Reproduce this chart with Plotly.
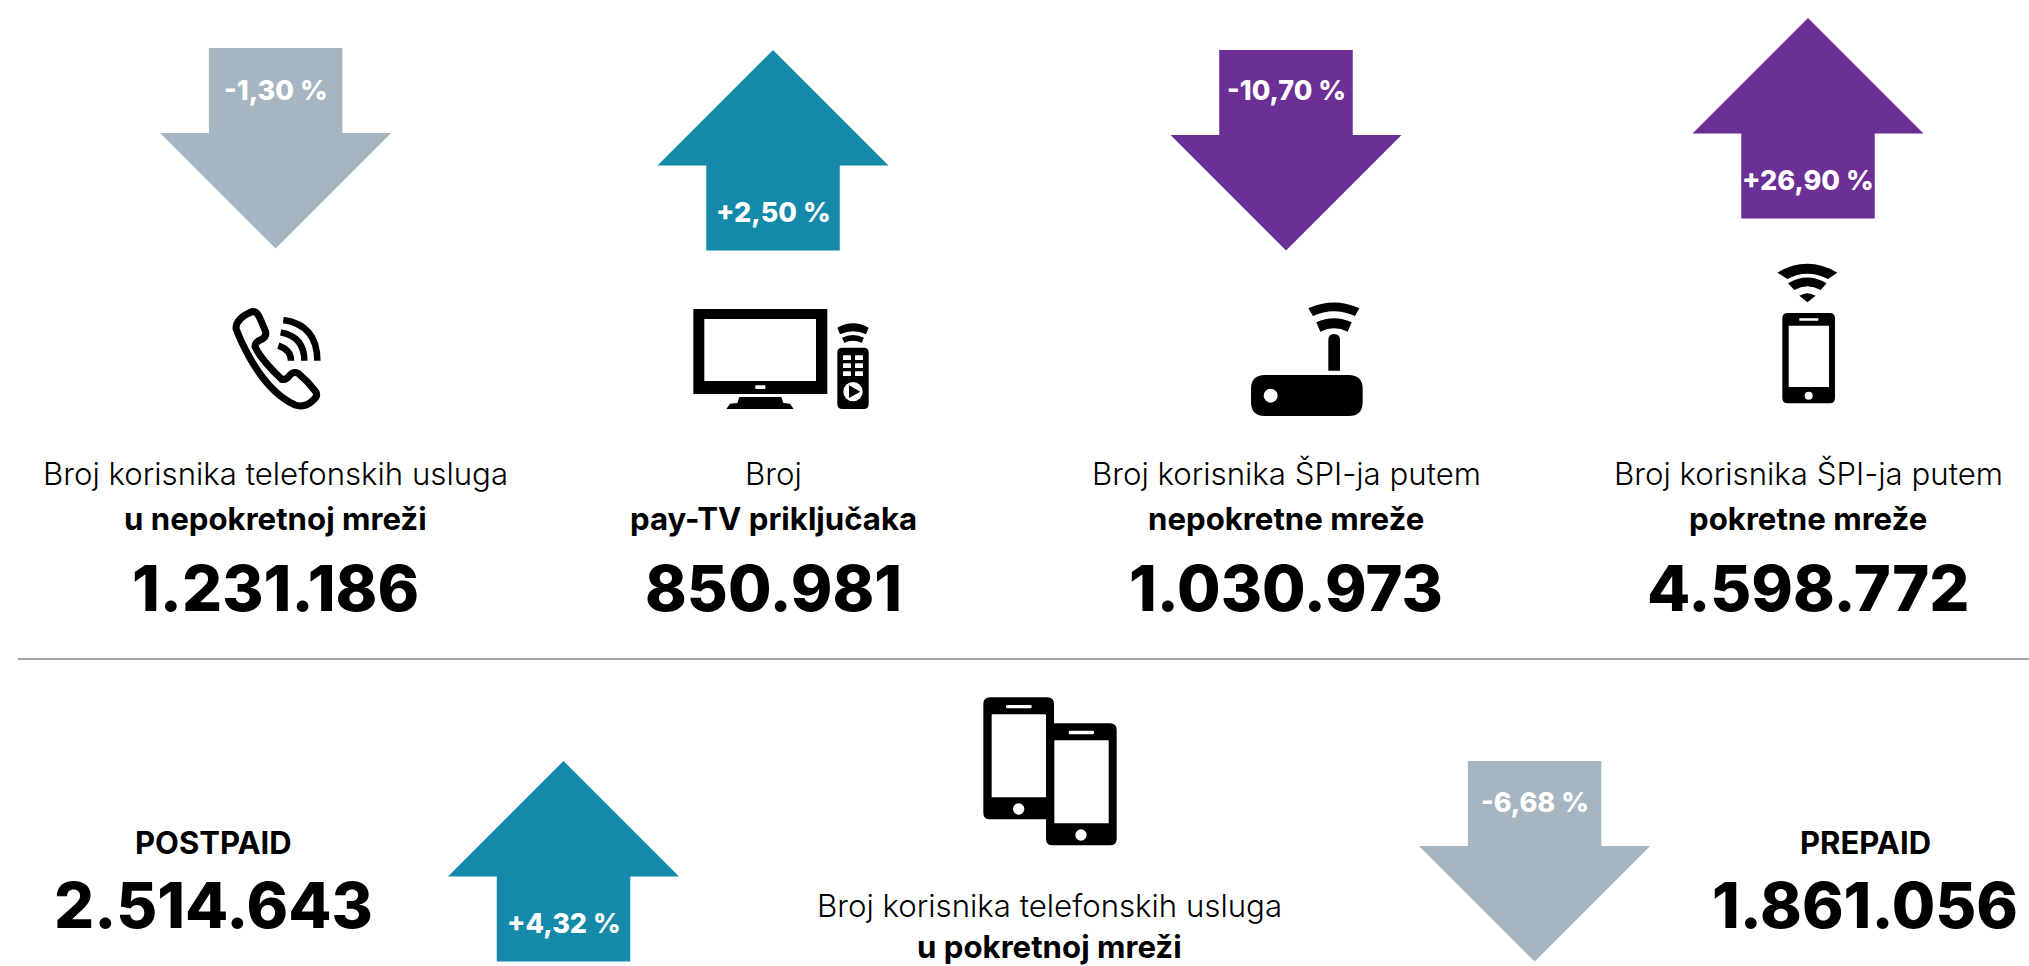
import re
import plotly.graph_objects as go

# ---------- data ----------
top_line1 = ["Broj korisnika telefonskih usluga", "Broj", "Broj korisnika ŠPI-ja putem", "Broj korisnika ŠPI-ja putem"]
top_line2 = ["u nepokretnoj mreži", "pay-TV priključaka", "nepokretne mreže", "pokretne mreže"]
top_totals = ["1.231.186", "850.981", "1.030.973", "4.598.772"]
top_changes = ["-1,30 %", "+2,50 %", "-10,70 %", "+26,90 %"]
bottom_labels = ["POSTPAID", "PREPAID"]
bottom_totals = ["2.514.643", "1.861.056"]
bottom_changes = ["+4,32 %", "-6,68 %"]
bottom_line1 = "Broj korisnika telefonskih usluga"
bottom_line2 = "u pokretnoj mreži"

# ---------- layout (page pixels) ----------
W, H = 2029, 966
GRAY, TEAL, PURPLE = "#A5B5C2", "#1489A9", "#6C2F96"
FONT = "Inter"
top_x = [275.6, 773, 1286, 1808]
top_arrow_y = [48, 50, 50, 18]
top_colors = [GRAY, TEAL, PURPLE, PURPLE]
top_pct_y = [90.6, 212, 90.6, 180]
bot_arrow_x = [563.5, 1534.6]
bot_arrow_y = [761, 761]
bot_colors = [TEAL, GRAY]
bot_pct_y = [923, 802]
bot_text_x = [213.5, 1865]

AW, AH, SW, HEAD = 231, 200.5, 133.5, 85

fig = go.Figure()


def arrow(cx, top, change, color):
    l, r, sl, sr = cx - AW / 2, cx + AW / 2, cx - SW / 2, cx + SW / 2
    if change.startswith("-"):
        sh = top + HEAD
        xs = [sl, sr, sr, r, cx, l, sl, sl]
        ys = [top, top, sh, sh, top + AH, sh, sh, top]
    else:
        sh = top + AH - HEAD
        xs = [cx, r, sr, sr, sl, sl, l, cx]
        ys = [top, sh, sh, top + AH, top + AH, sh, sh, top]
    fig.add_trace(go.Scatter(x=xs, y=ys, mode="lines", fill="toself", fillcolor=color,
                             line=dict(width=0, color=color), hoverinfo="skip", showlegend=False))


def text(x, y, s, size, weight=400, color="#000000", family=FONT):
    fig.add_annotation(x=x, y=y, text=s, showarrow=False, xanchor="center", yanchor="middle",
                       font=dict(size=size, color=color, family=family, weight=weight))


shapes = []


def tf(path, ox, oy, k=1 / 3):
    return re.sub(r"(-?\d+\.?\d*)[ ,](-?\d+\.?\d*)",
                  lambda m: f"{ox + float(m.group(1)) * k:.2f},{oy + float(m.group(2)) * k:.2f}", path)


def fill_path(path, ox, oy, color="#000000"):
    shapes.append(dict(type="path", xref="x", yref="y", path=tf(path, ox, oy), fillcolor=color,
                       line=dict(width=0), layer="above"))


def stroke_path(path, ox, oy, w):
    shapes.append(dict(type="path", xref="x", yref="y", path=tf(path, ox, oy),
                       fillcolor="rgba(0,0,0,0)", line=dict(width=w, color="#000000"), layer="above"))


def rrect(x0, y0, x1, y1, r, ox, oy, color="#000000"):
    p = (f"M {x0 + r},{y0} L {x1 - r},{y0} Q {x1},{y0} {x1},{y0 + r} L {x1},{y1 - r} Q {x1},{y1} {x1 - r},{y1} "
         f"L {x0 + r},{y1} Q {x0},{y1} {x0},{y1 - r} L {x0},{y0 + r} Q {x0},{y0} {x0 + r},{y0} Z")
    fill_path(p, ox, oy, color)


def circle(cx, cy, r, ox, oy, color="#FFFFFF", ry=None):
    ry = ry or r
    k = 1 / 3
    shapes.append(dict(type="circle", xref="x", yref="y", x0=ox + (cx - r) * k, x1=ox + (cx + r) * k,
                       y0=oy + (cy - ry) * k, y1=oy + (cy + ry) * k, fillcolor=color, line=dict(width=0),
                       layer="above"))


WHITE = "#FFFFFF"


def phone_icon(ox, oy):
    o = (ox, oy)
    stroke_path("M 125,65 Q 140,62 150,85 L 167,125 Q 170,140 155,148 Q 135,155 135,170 Q 150,205 215,268 "
                "Q 228,272 240,255 Q 250,243 265,250 Q 295,275 317,305 Q 325,318 310,330 Q 285,355 255,345 "
                "Q 180,310 120,205 Q 90,150 78,115 Q 78,85 125,65 Z", *o, 7)
    stroke_path("M 220,90 Q 322,105 322,212", *o, 6.5)
    stroke_path("M 212,127 Q 283,140 283,212", *o, 6.5)
    stroke_path("M 205,167 Q 243,180 243,212", *o, 6.5)


def tv_icon(ox, oy):
    o = (ox, oy)
    rrect(40, 42, 442, 297, 1, *o)
    rrect(73, 72, 408, 258, 1, *o, WHITE)
    rrect(226, 271, 256, 282, 1, *o, WHITE)
    fill_path("M 178,306 L 304,306 L 310,324 L 330,326 L 341,342 L 139,342 L 150,326 L 172,324 Z", *o)
    rrect(472, 158, 566, 342, 15, *o)
    for y0 in (181, 205, 229):
        for x0 in (489, 525):
            rrect(x0, y0, x0 + 24, y0 + 14, 1, *o, WHITE)
    circle(519, 290, 29, *o)
    fill_path("M 507,271 L 541,290 L 507,309 Z", *o)
    fill_path("M 472,98 Q 519,72 566,98 L 558,118 Q 519,100 480,118 Z", *o)
    fill_path("M 486,128 Q 519,112 552,128 L 545,143 Q 519,132 493,143 Z", *o)


def router_icon(ox, oy):
    o = (ox, oy)
    rrect(33, 255, 368, 378, 42, *o)
    circle(92, 317, 21, *o)
    fill_path("M 265,242 L 265,150 Q 265,132 282,132 Q 300,132 300,150 L 300,242 Z", *o)
    fill_path("M 205,55 Q 282,20 358,55 L 345,78 Q 282,50 219,78 Z", *o)
    fill_path("M 229,97 Q 282,72 335,97 L 323,125 Q 282,105 241,125 Z", *o)


def wifi_phone_icon(ox, oy):
    o = (ox, oy)
    rrect(67, 189, 225, 460, 16, *o)
    rrect(86, 227, 207, 411, 1, *o, WHITE)
    rrect(118, 205, 175, 212, 1, *o, WHITE)
    circle(146, 437, 12, *o)
    fill_path("M 52,68 Q 142,15 232,68 L 204,87 Q 142,55 82,87 Z", *o)
    fill_path("M 84,100 Q 142,65 200,100 L 182,120 Q 142,98 103,120 Z", *o)
    fill_path("M 118,137 Q 142,122 167,137 L 142,157 Z", *o)


def two_phones_icon(ox, oy):
    o = (ox, oy)
    rrect(40, 22, 252, 388, 20, *o)
    rrect(65, 73, 228, 322, 1, *o, WHITE)
    rrect(108, 45, 185, 55, 4, *o, WHITE)
    circle(146, 357, 17, *o)
    rrect(228, 100, 440, 466, 20, *o)
    rrect(253, 151, 416, 400, 1, *o, WHITE)
    rrect(296, 122, 372, 133, 4, *o, WHITE)
    circle(333, 435, 17, *o)


# ---------- arrows ----------
for x, y, c, col in zip(top_x, top_arrow_y, top_changes, top_colors):
    arrow(x, y, c, col)
for x, y, c, col in zip(bot_arrow_x, bot_arrow_y, bottom_changes, bot_colors):
    arrow(x, y, c, col)

# ---------- icons ----------
phone_icon(210, 290)
tv_icon(680, 295)
router_icon(1240, 290)
wifi_phone_icon(1760, 250)
two_phones_icon(970, 690)

# ---------- text ----------
for i, x in enumerate(top_x):
    text(x, top_pct_y[i], top_changes[i], 27, 800, WHITE)
    text(x, 474, top_line1[i], 31.2, 300)
    text(x, 519, top_line2[i], 31.2, 700)
    text(x, 588, top_totals[i], 63, 800)
for i, x in enumerate(bot_arrow_x):
    text(x, bot_pct_y[i], bottom_changes[i], 27, 800, WHITE)
for i, x in enumerate(bot_text_x):
    text(x, 842, bottom_labels[i], 31, 700)
    text(x, 905, bottom_totals[i], 63, 800)
text(1049.5, 906, bottom_line1, 31.2, 300)
text(1049.5, 947, bottom_line2, 31.2, 700)

shapes.insert(0, dict(type="line", xref="x", yref="y", x0=18, x1=W, y0=659, y1=659,
                      line=dict(color="#4A4A4A", width=1), layer="below"))

fig.update_layout(
    width=W, height=H, margin=dict(l=0, r=0, t=0, b=0), paper_bgcolor="white", plot_bgcolor="white",
    showlegend=False, shapes=shapes,
    xaxis=dict(range=[0, W], visible=False, fixedrange=True),
    yaxis=dict(range=[H, 0], visible=False, fixedrange=True),
)
fig.write_html("out.html", config={"displayModeBar": False},
               post_script="document.body.style.margin='0';document.body.style.overflow='hidden';")
